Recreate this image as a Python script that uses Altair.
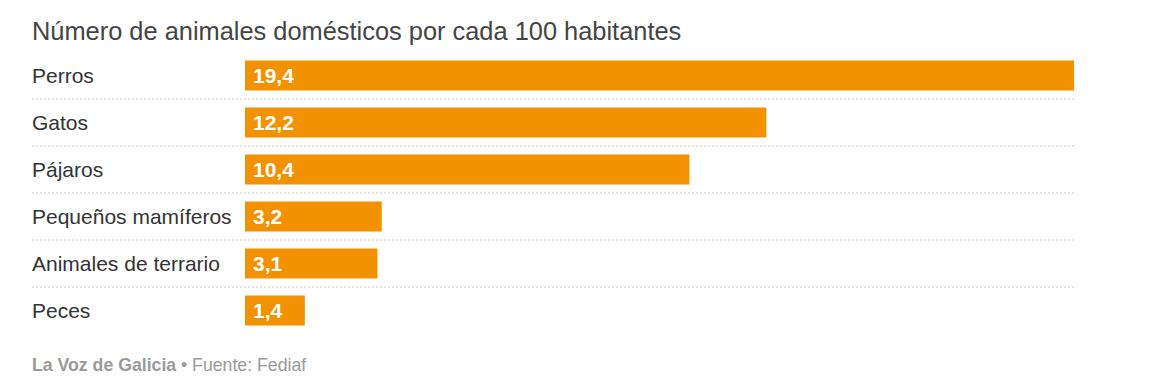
import altair as alt
import pandas as pd

categories = ["Perros", "Gatos", "Pájaros", "Pequeños mamíferos", "Animales de terrario", "Peces"]
values = [19.4, 12.2, 10.4, 3.2, 3.1, 1.4]
title_text = "Número de animales domésticos por cada 100 habitantes"
source_brand = "La Voz de Galicia"
source_text = "• Fuente: Fediaf"

FONT = "Liberation Sans, Arial, Helvetica, sans-serif"
W = 1043
H = 282
BAR_START = 213
BAR_END = 1042

df = pd.DataFrame({"cat": categories, "v": values})
sep_df = pd.DataFrame({"cat": categories[:-1]})

y_enc = alt.Y("cat:N", sort=categories,
              scale=alt.Scale(paddingInner=17 / 47, paddingOuter=17 / 94),
              axis=None)
x_scale = alt.Scale(domain=[0, 19.4], range=[BAR_START, BAR_END], nice=False, zero=True)

base = alt.Chart(df)

bars = base.mark_bar(color="#f29200", cornerRadius=0).encode(
    x=alt.X("v:Q", scale=x_scale, axis=None),
    y=y_enc,
)

vals = base.transform_calculate(
    lab="replace(format(datum.v, '.1f'), '.', ',')"
).mark_text(align="left", baseline="middle", font=FONT, fontSize=21,
            fontWeight="bold", color="white", dx=8, dy=1).encode(
    x=alt.value(BAR_START),
    y=y_enc,
    text="lab:N",
)

labels = base.mark_text(align="left", baseline="middle", font=FONT, fontSize=21,
                        color="#333333", dy=1).encode(
    x=alt.value(0),
    y=y_enc,
    text="cat:N",
)

seps = alt.Chart(sep_df).mark_rule(color="#cccccc", strokeDash=[2, 2],
                                   strokeWidth=1, yOffset=8.5).encode(
    y=alt.Y("cat:N", sort=categories,
            scale=alt.Scale(paddingInner=17 / 47, paddingOuter=17 / 94),
            axis=None, bandPosition=1),
    x=alt.value(0),
    x2=alt.value(W),
)

title = alt.Chart(pd.DataFrame({"t": [title_text]})).mark_text(
    align="left", baseline="alphabetic", font=FONT, fontSize=25.4, color="#444444"
).encode(x=alt.value(0), y=alt.value(-12.5), text="t:N")

brand = alt.Chart(pd.DataFrame({"t": [source_brand]})).mark_text(
    align="left", baseline="alphabetic", font=FONT, fontSize=17.7,
    fontWeight="bold", color="#9a9a9a"
).encode(x=alt.value(0), y=alt.value(319), text="t:N")

source = alt.Chart(pd.DataFrame({"t": [source_text]})).mark_text(
    align="left", baseline="alphabetic", font=FONT, fontSize=17.7, color="#9a9a9a"
).encode(x=alt.value(149), y=alt.value(319), text="t:N")

chart = alt.layer(seps, bars, vals, labels, title, brand, source).properties(
    width=W, height=H,
    autosize=alt.AutoSizeParams(type="none"),
    padding={"left": 24, "top": 44, "right": 60, "bottom": 50},
    background="white",
).configure_view(stroke=None)

chart.save("out.html", embed_options={"renderer": "svg", "actions": False})
